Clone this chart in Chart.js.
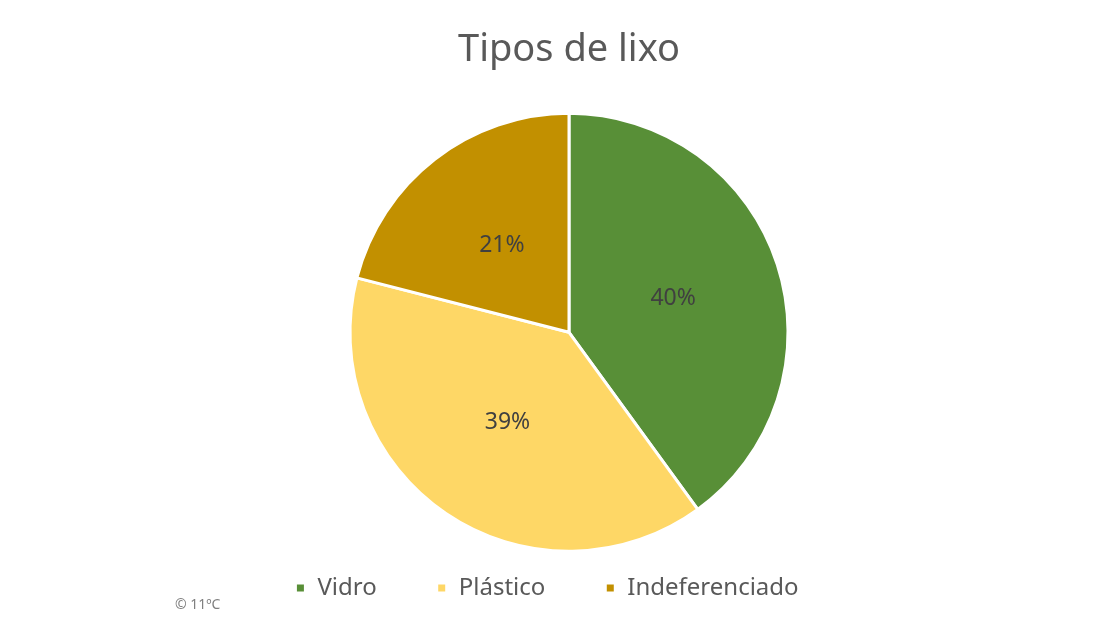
<!DOCTYPE html>
<html lang="pt">
<head>
  <meta charset="UTF-8">
  <title>Tipos de lixo</title>
  <script src="https://cdn.jsdelivr.net/npm/chart.js"></script>
  <style>
    html, body {
      margin: 0;
      padding: 0;
      background: #ffffff;
    }
    .wrap {
      position: relative;
      width: 1100px;
      height: 620px;
    }
    .credit {
      position: absolute;
      left: 175px;
      top: 594px;
      font-family: 'Noto Sans', sans-serif;
      font-size: 14px;
      color: #7f7f7f;
    }
  </style>
</head>
<body>
  <div class="wrap">
    <canvas id="pieChart" width="1100" height="620"></canvas>
    <div class="credit">© 11ºC</div>
  </div>
  <script>
    const categories = ['Vidro', 'Plástico', 'Indeferenciado'];
    const shares = [40, 39, 21];
    const sliceColors = ['#588f37', '#fed766', '#c29000'];

    // percentage text in the middle of each slice
    const sliceLabels = {
      id: 'sliceLabels',
      afterDatasetsDraw(chart) {
        const ctx = chart.ctx;
        const meta = chart.getDatasetMeta(0);
        ctx.save();
        ctx.font = '23px "Noto Sans", sans-serif';
        ctx.fillStyle = '#404040';
        ctx.textAlign = 'center';
        ctx.textBaseline = 'middle';
        meta.data.forEach((arc, i) => {
          const p = arc.tooltipPosition();
          ctx.fillText(shares[i] + '%', p.x, p.y);
        });
        ctx.restore();
      }
    };

    // legend sits a little left of the pie centre in the original
    const legendShift = {
      id: 'legendShift',
      afterLayout(chart) {
        const lg = chart.legend;
        lg.left -= 22;
        lg.right -= 22;
      }
    };

    new Chart(document.getElementById('pieChart'), {
      type: 'pie',
      data: {
        labels: categories,
        datasets: [{
          data: shares,
          backgroundColor: sliceColors,
          borderColor: '#ffffff',
          borderWidth: 3
        }]
      },
      options: {
        responsive: false,
        animation: false,
        radius: 219,
        layout: { padding: { left: 38, top: 0, bottom: 10 } },
        plugins: {
          title: {
            display: true,
            text: 'Tipos de lixo',
            color: '#595959',
            font: { family: 'Noto Sans', size: 38, weight: 'normal' },
            padding: { top: 27, bottom: 76 }
          },
          legend: {
            position: 'bottom',
            labels: {
              color: '#595959',
              font: { family: 'Noto Sans', size: 24 },
              boxWidth: 10,
              boxHeight: 10,
              padding: 60
            }
          },
          tooltip: { enabled: false }
        }
      },
      plugins: [sliceLabels, legendShift]
    });
  </script>
</body>
</html>
